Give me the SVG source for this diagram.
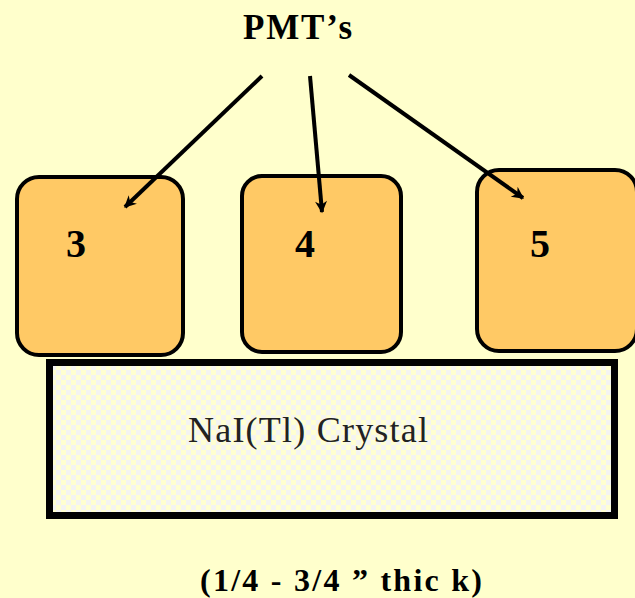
<svg xmlns="http://www.w3.org/2000/svg" width="635" height="598" viewBox="0 0 635 598">
<defs>
<style>
.pmt{fill:#FFC965;stroke:#000;stroke-width:4}
.lbl{font-family:'Liberation Serif','Times New Roman','DejaVu Serif',serif;font-weight:bold;fill:#000}
.reg{font-family:'Liberation Serif','Times New Roman','DejaVu Serif',serif;fill:#222}
.conn{stroke:#000;stroke-width:4;fill:none;marker-end:url(#ah)}
</style>
<pattern id="chk" width="10" height="10" patternUnits="userSpaceOnUse" x="51" y="365">
<rect width="10" height="10" fill="#FFFFD0"/>
<rect width="5" height="5" fill="#F4F4F2"/>
<rect x="5" y="5" width="5" height="5" fill="#F4F4F2"/>
</pattern>
<marker id="ah" viewBox="0 0 10 10" refX="9" refY="5" markerWidth="4" markerHeight="3" orient="auto" markerUnits="strokeWidth">
<path d="M0,0 L10,5 L0,10 L3,5 Z" fill="#000"/>
</marker>
</defs>
<rect width="635" height="598" fill="#FFFFCC"/>
<g id="crystal">
<rect x="49.5" y="362.5" width="565" height="153" fill="url(#chk)" stroke="#000" stroke-width="7"/>
<text x="188" y="442" font-size="36" textLength="240" lengthAdjust="spacing" class="reg">NaI(Tl) Crystal</text>
</g>
<g id="pmt3">
<rect x="17" y="177" width="166" height="178" rx="22" class="pmt"/>
<text x="76" y="257" text-anchor="middle" font-size="40" class="lbl">3</text>
</g>
<g id="pmt4">
<rect x="242" y="176" width="159" height="176" rx="20" class="pmt"/>
<text x="305" y="257" text-anchor="middle" font-size="40" class="lbl">4</text>
</g>
<g id="pmt5">
<rect x="477" y="170" width="160" height="181" rx="22" class="pmt"/>
<text x="540" y="257" text-anchor="middle" font-size="40" class="lbl">5</text>
</g>
<g id="title">
<text x="243" y="39" font-size="35" textLength="109" lengthAdjust="spacing" class="lbl">PMT’s</text>
</g>
<g id="connectors">
<line x1="262" y1="76" x2="125" y2="207" class="conn"/>
<line x1="310" y1="76" x2="322" y2="212" class="conn"/>
<line x1="349" y1="75" x2="523" y2="198" class="conn"/>
</g>
<g id="note">
<text x="200" y="591" font-size="32" textLength="282" lengthAdjust="spacing" class="lbl" xml:space="preserve">(1/4 - 3/4 ” thic k)</text>
</g>
</svg>
